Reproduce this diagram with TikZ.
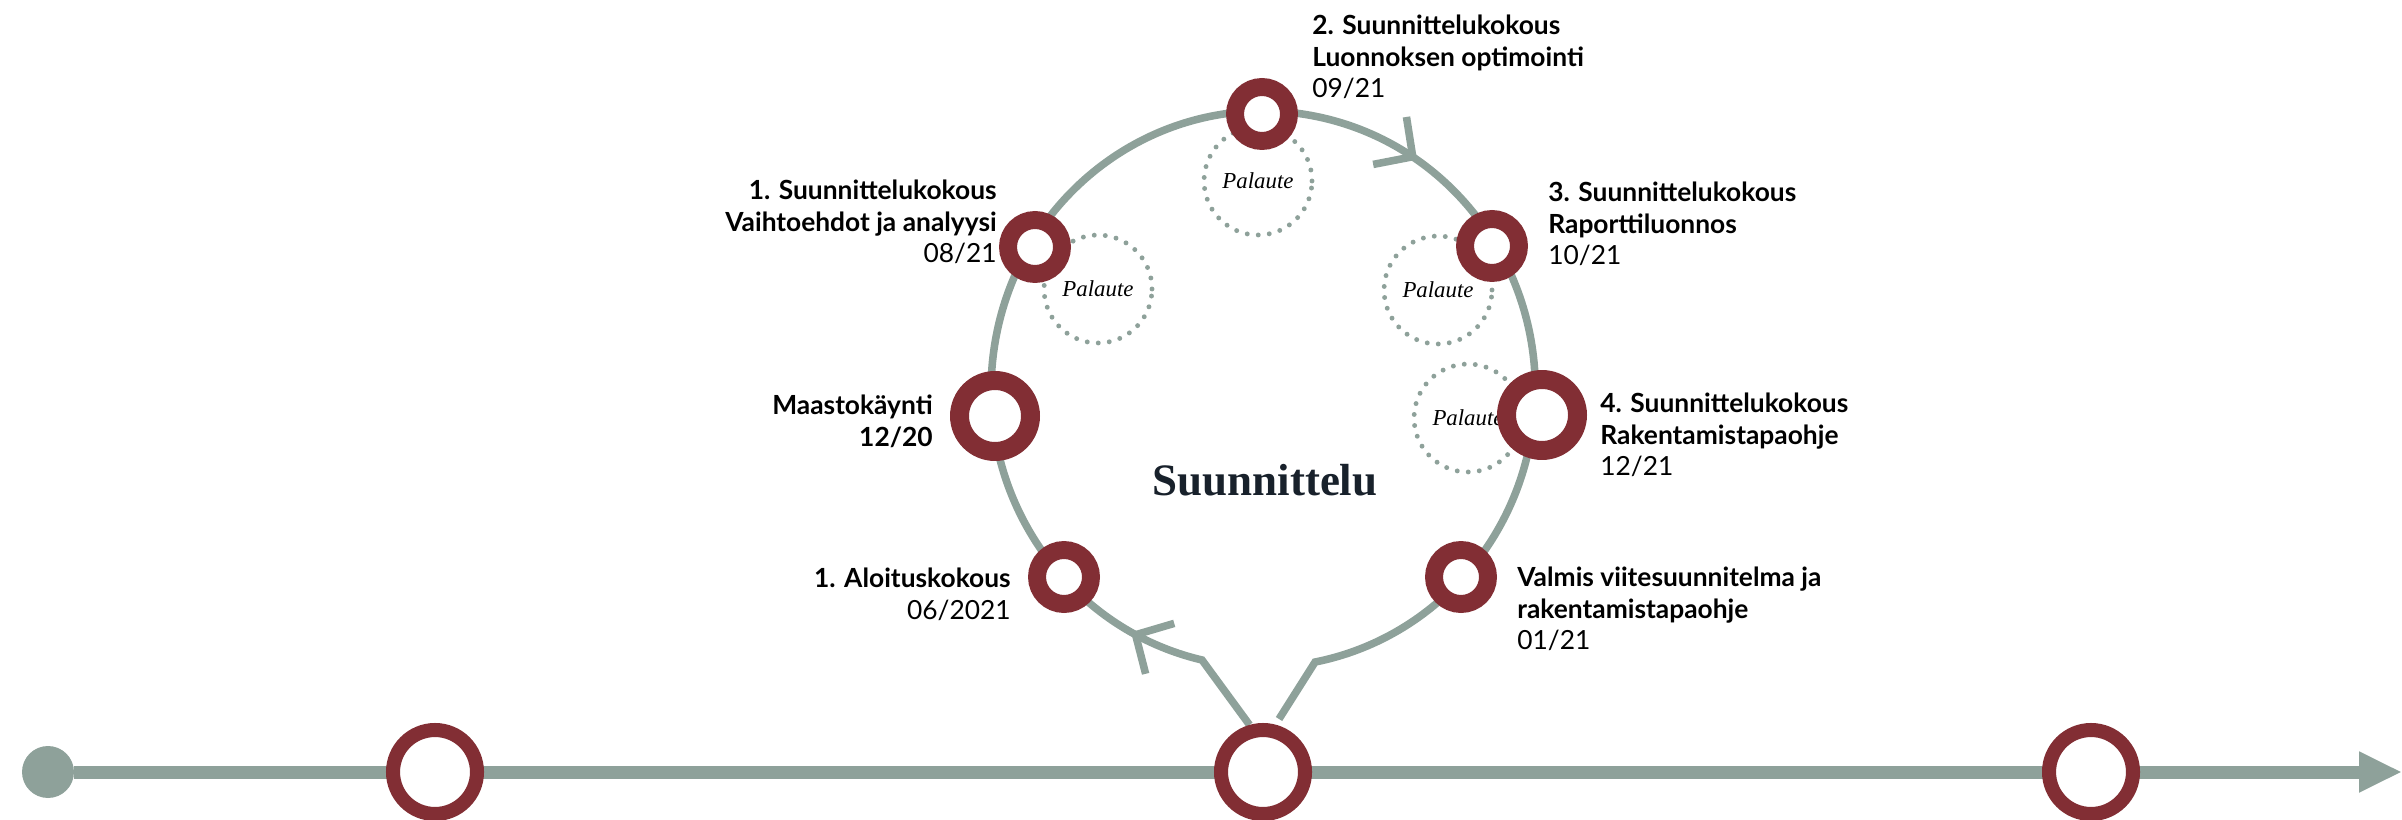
\documentclass[tikz,border=0pt]{standalone}
\usepackage{fontspec}
\newfontfamily\labelfont{Lato}
\newfontfamily\seriffont{Liberation Serif}
\usepackage{xcolor}
\definecolor{wine}{RGB}{130,46,52}
\definecolor{sage}{RGB}{142,161,154}
\definecolor{ink}{RGB}{24,33,43}
\usepackage{tikz}
\usetikzlibrary{arrows.meta, decorations.markings, backgrounds}
\tikzstyle{milestone} = [
    circle, inner sep=0pt,
    draw=wine, fill=white,
    minimum size=1.68cm,
    line width=8pt,
]
\tikzstyle{meeting} = [
    milestone,
    minimum size=1.08cm,
    line width=10.2pt,
]
\tikzstyle{visit} = [
    milestone,
    minimum size=1.42cm,
    line width=10.8pt,
]
\tikzstyle{feedback} = [
    circle, inner sep=0pt,
    minimum size=2.16cm,
    draw=sage, line width=2.8pt,
    dash pattern=on 0pt off 6.3pt, line cap=round,
    font=\seriffont\itshape\fontsize{13}{15}\selectfont,
]
\tikzstyle{lbl} = [
    inner sep=0pt,
    font=\labelfont\fontsize{15}{17.9}\selectfont,
]
\tikzstyle{track} = [draw=sage, line width=7.4pt]
\tikzstyle{loopline} = [draw=sage, line width=4.3pt]
\tikzset{barb/.tip={Straight Barb[length=0.56cm, width=1.16cm]}}

\begin{document}
\begin{tikzpicture}[x=0.02cm, y=0.02cm]
    \useasboundingbox (0,0) rectangle (2402,819);

    % timeline
    \node (start) at (48,47) [circle, fill=sage, inner sep=0pt, minimum size=1.04cm] {};
    \coordinate (end) at (2402,47);
    \foreach \x [count=\i] in {435,1263,2091} {
        \node (t\i) at (\x,47) [milestone] {};
    }

    % feedback circles
    \node (fb1) at (1098,530) [feedback] {Palaute};
    \node (fb2) at (1258,638) [feedback] {Palaute};
    \node (fb3) at (1438,529) [feedback] {Palaute};
    \node (fb4) at (1468,401) [feedback] {Palaute};

    % rings on the loop
    \node (aloitus) at (1064,242) [meeting] {};
    \node (maasto) at (995,403) [visit] {};
    \node (sk1) at (1035,572) [meeting] {};
    \node (sk2) at (1262,705) [meeting] {};
    \node (sk3) at (1492,573) [meeting] {};
    \node (sk4) at (1542,404) [visit] {};
    \node (valmis) at (1461,242) [meeting] {};

    \node (title) at (1265,339) [font=\seriffont\bfseries\fontsize{25.6}{30}\selectfont, text=ink] {Suunnittelu};

    % labels
    \node (lblaloitus) at (1011,251) [lbl, anchor=north east, align=right] {{\bfseries 1. Aloituskokous}\\06/2021};
    \node (lblmaasto) at (933,424) [lbl, anchor=north east, align=right] {{\bfseries Maastokäynti}\\{\bfseries 12/20}};
    \node (lblsk1) at (997,639) [lbl, anchor=north east, align=right] {{\bfseries 1. Suunnittelukokous}\\{\bfseries Vaihtoehdot ja analyysi}\\08/21};
    \node (lblsk2) at (1312,804) [lbl, anchor=north west, align=left] {{\bfseries 2. Suunnittelukokous}\\{\bfseries Luonnoksen optimointi}\\09/21};
    \node (lblsk3) at (1548,637) [lbl, anchor=north west, align=left] {{\bfseries 3. Suunnittelukokous}\\{\bfseries Raporttiluonnos}\\10/21};
    \node (lblsk4) at (1600,426) [lbl, anchor=north west, align=left] {{\bfseries 4. Suunnittelukokous}\\{\bfseries Rakentamistapaohje}\\12/21};
    \node (lblvalmis) at (1517,252) [lbl, anchor=north west, align=left] {{\bfseries Valmis viitesuunnitelma ja}\\{\bfseries rakentamistapaohje}\\01/21};

    % lines
    \begin{pgfonlayer}{background}
        \draw [track, -{Triangle[length=0.86cm, width=0.76cm]}] (start) -- (end);
        \coordinate (kinkL) at (1202,159);
        \coordinate (back) at (1279,100);
        \draw [loopline, postaction={decorate}, decoration={markings,
            mark=at position 0.089 with {\arrow{barb}},
            mark=at position 0.594 with {\arrow{barb}}}]
            (t2.106) -- (kinkL)
            arc[start angle=257, end angle=-79, x radius=272, y radius=278]
            -- (back);
    \end{pgfonlayer}

\end{tikzpicture}
\end{document}
